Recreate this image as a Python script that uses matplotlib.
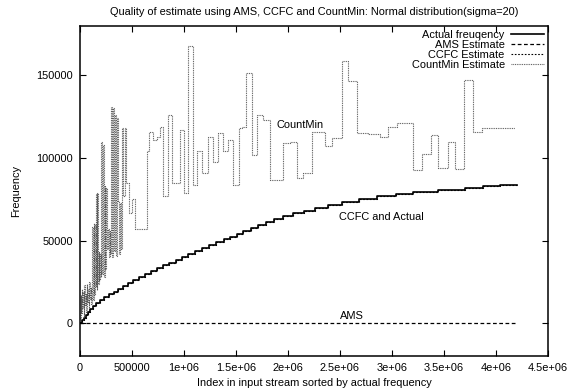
import matplotlib
matplotlib.use("Agg")
import matplotlib.pyplot as plt
import numpy as np

plt.rcParams['font.family'] = ['Liberation Sans', 'DejaVu Sans']

title = "Quality of estimate using AMS, CCFC and CountMin: Normal distribution(sigma=20)"
xlabel = "Index in input stream sorted by actual frequency"
ylabel = "Frequency"

# Actual frequency (staircase); x in millions of index, y in thousands
actual_x_m = [0, 0.0175, 0.035, 0.055, 0.077, 0.098, 0.122, 0.153, 0.19, 0.233,
              0.278, 0.327, 0.367, 0.413, 0.46, 0.51, 0.57, 0.623, 0.68, 0.74,
              0.80, 0.858, 0.92, 0.98, 1.04, 1.107, 1.175, 1.24, 1.31, 1.38,
              1.44, 1.505, 1.57, 1.64, 1.71, 1.79, 1.87, 1.955, 2.05, 2.15,
              2.26, 2.38, 2.52, 2.68, 2.86, 3.04, 3.2, 3.44, 3.7, 3.875,
              4.04, 4.2]
actual_y_k = [0, 1.75, 3.5, 5.25, 7.0, 8.75, 10.5, 12.25, 14.0, 15.75,
              17.5, 19.25, 21.0, 22.75, 24.5, 26.25, 28.0, 29.75, 31.5, 33.25,
              35.0, 36.75, 38.5, 40.25, 42.0, 43.75, 45.5, 47.25, 49.0, 50.75,
              52.5, 54.25, 56.0, 57.75, 59.5, 61.25, 63.0, 64.75, 66.5, 68.25,
              70.0, 71.75, 73.5, 75.25, 77.0, 78.3, 79.6, 80.9, 82.0, 82.8,
              83.6, 83.6]

# CCFC estimate coincides with the actual frequency
ccfc_x_m = list(actual_x_m)
ccfc_y_k = list(actual_y_k)

# AMS estimate stays at zero
ams_x_m = [0, 4.2]
ams_y_k = [0, 0]

# CountMin estimate (step values); x in thousands of index, y in thousands
cm_x_k = [0, 6, 12, 18, 24, 30, 36, 42, 48, 54, 60, 66, 72, 78, 84, 90, 96, 102, 108, 114,
          120, 126, 132, 138, 144, 150, 156, 162, 168, 174, 180, 186, 192, 198,
          204, 212, 220, 228, 236, 244, 252, 260, 268, 276, 284, 292,
          300, 310, 320, 330, 340, 350, 360, 370, 378, 386, 394, 402, 416, 430,
          445, 475, 500, 530, 640, 663, 705, 737, 769, 801, 843, 882, 962,
          1003, 1041, 1084, 1128, 1176, 1228, 1276, 1324, 1378, 1426, 1474,
          1532, 1554, 1596, 1651, 1705, 1763, 1827, 1955, 2019, 2083, 2147,
          2228, 2356, 2420, 2516, 2580, 2660, 2772, 2885, 2965, 3045, 3205,
          3285, 3372, 3446, 3542, 3606, 3696, 3782, 3862, 4180]
cm_y_k = [3, 17, 6, 21, 9, 19, 4, 23, 11, 18, 7, 24, 13, 21, 10, 25, 15, 22, 12, 20,
          58, 14, 61, 17, 60, 22, 78, 20, 79, 24, 43, 26, 42, 28,
          110, 30, 108, 28, 83, 33, 82, 45, 57, 40, 56, 42,
          131, 40, 130, 44, 126, 41, 124, 74, 42, 73, 45, 118, 77, 118,
          85, 67, 75, 57, 104, 116, 111, 113, 118.6, 76.8, 126, 84.9, 117,
          78.8, 167.6, 83.8, 104, 90.9, 112.5, 97.6, 115, 104, 111, 83.8,
          118, 119, 151.4, 102, 125.8, 123, 86.9, 109, 109.5, 87.9, 90.9,
          115.7, 107, 112, 158.5, 146.4, 115, 114.5, 113, 118.8, 121, 93,
          102.4, 113.7, 94, 110, 93.5, 147.4, 115.7, 118, 118]

xticks = [0, 500000, 1000000, 1500000, 2000000, 2500000, 3000000, 3500000, 4000000, 4500000]
xtick_labels = ["0", "500000", "1e+06", "1.5e+06", "2e+06", "2.5e+06", "3e+06",
                "3.5e+06", "4e+06", "4.5e+06"]
yticks = [0, 50000, 100000, 150000]
ytick_labels = ["0", "50000", "100000", "150000"]

actual_x = np.array(actual_x_m) * 1e6
actual_y = np.array(actual_y_k) * 1e3
ccfc_x = np.array(ccfc_x_m) * 1e6
ccfc_y = np.array(ccfc_y_k) * 1e3
ams_x = np.array(ams_x_m) * 1e6
ams_y = np.array(ams_y_k) * 1e3
cm_x = np.array(cm_x_k) * 1e3
cm_y = np.array(cm_y_k) * 1e3

fig = plt.figure(figsize=(5.69, 3.92), dpi=100)
ax = fig.add_axes([80 / 569, 1 - 356.4 / 392, (548 - 80) / 569, (356.4 - 25.8) / 392])

fs = 7.9
ax.plot(actual_x, actual_y, drawstyle='steps-post', color='black', lw=1.2,
        label='Actual freuqency')
ax.plot(ams_x, ams_y, color='black', lw=0.9, linestyle=(0, (3, 2)), label='AMS Estimate')
ax.plot(ccfc_x, ccfc_y, drawstyle='steps-post', color='black', lw=0.8,
        linestyle=(0, (1.5, 1.5)), label='CCFC Estimate')
ax.plot(cm_x, cm_y, drawstyle='steps-post', color='#555555', lw=0.8,
        linestyle=(0, (0.8, 0.8)), label='CountMin Estimate')

ax.text(2120000, 120000, "CountMin", fontsize=fs, ha='center', va='center')
ax.text(2900000, 64300, "CCFC and Actual", fontsize=fs, ha='center', va='center')
ax.text(2610000, 4700, "AMS", fontsize=fs, ha='center', va='center')

ax.set_xlim(0, 4500000)
ax.set_ylim(-20000, 180000)
ax.set_xticks(xticks)
ax.set_xticklabels(xtick_labels)
ax.set_yticks(yticks)
ax.set_yticklabels(ytick_labels)
ax.tick_params(direction='in', top=True, right=True, length=4, width=0.8,
               labelsize=fs, pad=5)
for s in ax.spines.values():
    s.set_linewidth(1.1)

ax.set_title(title, fontsize=fs, pad=8)
ax.set_xlabel(xlabel, fontsize=fs, labelpad=3)
ax.set_ylabel(ylabel, fontsize=fs, labelpad=11)

leg = ax.legend(loc='upper right', frameon=False, markerfirst=False, fontsize=fs,
                handlelength=3.0, handletextpad=0.6, labelspacing=0.0,
                borderaxespad=0.15, borderpad=0.2)

fig.savefig("out.png", dpi=100)
